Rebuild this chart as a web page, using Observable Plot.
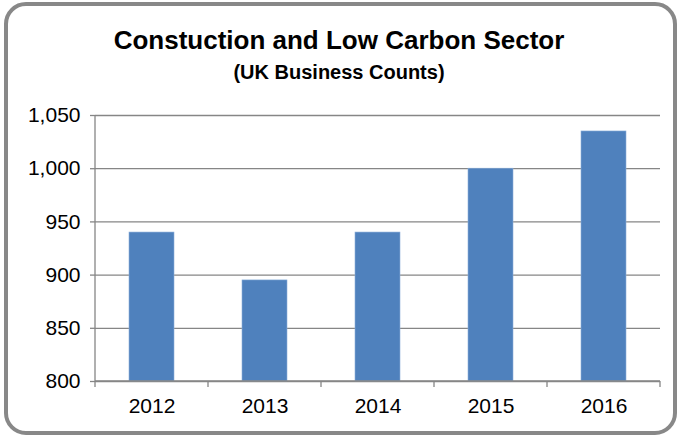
<!DOCTYPE html>
<html>
<head>
<meta charset="utf-8">
<script src="https://cdn.jsdelivr.net/npm/d3@7"></script>
<script src="https://cdn.jsdelivr.net/npm/@observablehq/plot@0.6"></script>
<style>
  html, body { margin: 0; padding: 0; background: #fff; }
  #wrap { position: relative; width: 678px; height: 436px; overflow: hidden; font-family: "Liberation Sans", Arial, sans-serif; }
  #frame { position: absolute; left: 4px; top: 2px; width: 673px; height: 433px; box-sizing: border-box;
           border: 4px solid #888888; border-radius: 22px; }
  #title { position: absolute; left: 0; width: 678px; top: 25px; text-align: center; font-weight: bold; font-size: 26px; line-height: 30px; color: #000; }
  #subtitle { position: absolute; left: 0; width: 678px; top: 61px; text-align: center; font-weight: bold; font-size: 20px; line-height: 22px; color: #000; }
  #chart { position: absolute; left: 0; top: 90px; }
</style>
</head>
<body>
<div id="wrap">
  <div id="frame"></div>
  <div id="title">Constuction and Low Carbon Sector</div>
  <div id="subtitle">(UK Business Counts)</div>
  <div id="chart"></div>
</div>
<script>
const years = ["2012", "2013", "2014", "2015", "2016"];
const counts = [940, 895, 940, 1000, 1035];
const yTicks = [800, 850, 900, 950, 1000, 1050];

const data = years.map((y, i) => ({year: y, count: counts[i], base: yTicks[0]}));

const axisColor = "#868686";

function axisLines(index, scales, values, dimensions) {
  const {width, height, marginLeft, marginRight, marginTop, marginBottom} = dimensions;
  const x = scales.x;
  const g = d3.create("svg:g").attr("stroke", axisColor).attr("stroke-width", 1.3).attr("fill", "none");
  const yb = height - marginBottom;
  // left axis line
  g.append("line").attr("x1", marginLeft).attr("x2", marginLeft).attr("y1", marginTop).attr("y2", yb + 0.5);
  // bottom axis line
  g.append("line").attr("x1", marginLeft).attr("x2", width - marginRight).attr("y1", yb).attr("y2", yb);
  // category boundary ticks
  const step = x.step();
  const bounds = years.map(d => x(d) + x.bandwidth() / 2 - step / 2);
  bounds.push(x(years[years.length - 1]) + x.bandwidth() / 2 + step / 2);
  for (const b of bounds) {
    g.append("line").attr("x1", b).attr("x2", b).attr("y1", yb).attr("y2", yb + 6);
  }
  return g.node();
}

const chart = Plot.plot({
  width: 678,
  height: 346,
  marginLeft: 95,
  marginRight: 18,
  marginTop: 25,
  marginBottom: 55,
  style: {fontFamily: "'Liberation Sans', Arial, sans-serif", fontSize: "21px", color: "#000", background: "transparent", overflow: "visible"},
  x: {type: "band", domain: years, paddingInner: 0.6, paddingOuter: 0.3, label: null},
  y: {domain: [yTicks[0], yTicks[yTicks.length - 1]], label: null},
  marks: [
    Plot.gridY(yTicks, {stroke: axisColor, strokeOpacity: 1, strokeWidth: 1.3}),
    Plot.barY(data, {x: "year", y1: "base", y2: "count", fill: "#4f81bd", stroke: "#8db0da", strokeWidth: 0.6, inset: 0}),
    Plot.axisY({ticks: yTicks, tickFormat: d3.format(","), tickSize: 5, tickPadding: 10, stroke: axisColor, strokeWidth: 1.3, fill: "#000", fontSize: 21, label: null}),
    Plot.axisX({tickSize: 0, tickPadding: 17, fill: "#000", fontSize: 21, label: null}),
    axisLines
  ]
});
document.getElementById("chart").appendChild(chart);
</script>
</body>
</html>
